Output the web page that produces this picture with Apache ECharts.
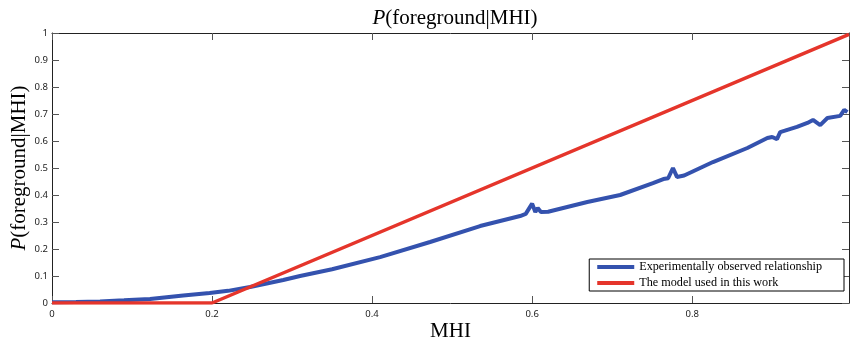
<!DOCTYPE html>
<html>
<head>
<meta charset="utf-8">
<script src="https://cdn.jsdelivr.net/npm/echarts@6/dist/echarts.min.js"></script>
<style>
  html, body { margin: 0; padding: 0; background: #fff; }
  #chart { width: 850px; height: 343px; }
</style>
</head>
<body>
<div id="chart"></div>
<script>
// observed curve
var observedX = [0, 0.03, 0.06, 0.09, 0.1225, 0.164, 0.197, 0.22, 0.2475, 0.289, 0.31, 0.35, 0.41, 0.4725, 0.535,
  0.585, 0.592, 0.6, 0.604, 0.607, 0.611, 0.62, 0.669, 0.71, 0.751, 0.764, 0.77, 0.776, 0.781, 0.79, 0.81,
  0.826, 0.869, 0.894, 0.9, 0.906, 0.91, 0.931, 0.944, 0.951, 0.96, 0.969, 0.985, 0.99, 0.994];
var observedY = [0.003, 0.004, 0.006, 0.01, 0.015, 0.028, 0.037, 0.045, 0.059, 0.085, 0.1, 0.125, 0.17, 0.226, 0.285,
  0.322, 0.33, 0.368, 0.337, 0.352, 0.337, 0.338, 0.374, 0.4, 0.444, 0.459, 0.462, 0.5, 0.467, 0.472, 0.5,
  0.522, 0.574, 0.611, 0.615, 0.607, 0.633, 0.652, 0.667, 0.678, 0.659, 0.685, 0.693, 0.715, 0.707];
// model
var modelX = [0, 0.2, 0.996];
var modelY = [0, 0, 0.995];

var seriesNames = ['Experimentally observed relationship', 'The model used in this work'];

function pairs(xs, ys) {
  return xs.map(function (x, i) { return [x, ys[i]]; });
}

var serif = 'Liberation Serif';
var nameRich = { i: { fontStyle: 'italic', fontFamily: serif, fontSize: 21, color: '#000' } };

var tickStyle = { inside: true, length: 7, lineStyle: { color: '#555', width: 1 } };
var lineStyle = { show: true, onZero: false, lineStyle: { color: '#222', width: 1 } };
var labelStyle = { fontFamily: 'Noto Sans', fontSize: 9.5, color: '#222' };

var chart = echarts.init(document.getElementById('chart'));
chart.setOption({
  animation: false,
  title: {
    text: '{i|P}(foreground|MHI)',
    left: 450,
    textAlign: 'center',
    top: 3,
    textStyle: { fontFamily: serif, fontSize: 21, fontWeight: 'normal', color: '#000', rich: nameRich }
  },
  grid: { left: 52, right: 1, top: 33, bottom: 40, outerBoundsMode: 'none', containLabel: false },
  legend: {
    data: seriesNames,
    orient: 'vertical',
    right: 6,
    top: 259,
    icon: 'rect',
    itemWidth: 37,
    itemHeight: 4,
    itemGap: 4,
    padding: [2, 22, 2, 8],
    borderColor: '#000',
    borderWidth: 1,
    borderRadius: 0,
    backgroundColor: '#fff',
    textStyle: { fontFamily: serif, fontSize: 12.2, color: '#000' }
  },
  xAxis: [{
    type: 'value',
    min: 0,
    max: 0.996,
    interval: 0.2,
    name: 'MHI',
    nameLocation: 'middle',
    nameGap: 18,
    nameMoveOverlap: false,
    nameTextStyle: { fontFamily: serif, fontSize: 21, color: '#000' },
    axisLine: lineStyle,
    axisTick: tickStyle,
    axisLabel: Object.assign({ margin: 6, showMaxLabel: false }, labelStyle),
    splitLine: { show: false }
  }, {
    type: 'value',
    position: 'top',
    min: 0,
    max: 0.996,
    interval: 0.2,
    axisLine: lineStyle,
    axisTick: tickStyle,
    axisLabel: { show: false },
    splitLine: { show: false }
  }],
  yAxis: [{
    type: 'value',
    min: 0,
    max: 1,
    interval: 0.1,
    name: '{i|P}(foreground|MHI)',
    nameLocation: 'middle',
    nameRotate: 90,
    nameGap: 22,
    nameMoveOverlap: false,
    nameTextStyle: { fontFamily: serif, fontSize: 21, color: '#000', rich: nameRich },
    axisLine: lineStyle,
    axisTick: tickStyle,
    axisLabel: Object.assign({ margin: 4 }, labelStyle),
    splitLine: { show: false }
  }, {
    type: 'value',
    position: 'right',
    min: 0,
    max: 1,
    interval: 0.1,
    axisLine: lineStyle,
    axisTick: tickStyle,
    axisLabel: { show: false },
    splitLine: { show: false }
  }],
  series: [{
    name: seriesNames[0],
    type: 'line',
    data: pairs(observedX, observedY),
    symbol: 'none',
    itemStyle: { color: '#3452AE' },
    lineStyle: { color: '#3452AE', width: 4 }
  }, {
    name: seriesNames[1],
    type: 'line',
    data: pairs(modelX, modelY),
    symbol: 'none',
    itemStyle: { color: '#E5352B' },
    lineStyle: { color: '#E5352B', width: 3.5 }
  }]
});
</script>
</body>
</html>
